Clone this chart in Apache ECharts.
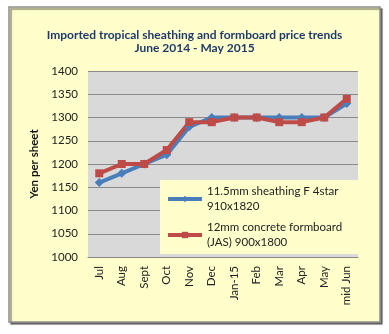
<!DOCTYPE html>
<html><head><meta charset="utf-8">
<script src="https://cdn.jsdelivr.net/npm/echarts@6/dist/echarts.min.js"></script>
<style>html,body{margin:0;padding:0;background:#fff}#c{width:389px;height:334px}</style>
</head><body><div id="c"></div>
<script>
var categories = ['Jul','Aug','Sept','Oct','Nov','Dec','Jan-15','Feb','Mar','Apr','May','mid Jun'];
var sheathing = [1160,1180,1200,1220,1280,1300,1300,1300,1300,1300,1300,1330];
var formboard = [1180,1200,1200,1230,1290,1290,1300,1300,1290,1290,1300,1340];
var seriesNames = ['11.5mm sheathing F 4star\n910x1820','12mm concrete formboard\n(JAS) 900x1800'];
var chart = echarts.init(document.getElementById('c'));
var font = 'Lato';
chart.setOption({
  backgroundColor:'#fff',
  animation:false,
  graphic:[{type:'rect',z:-10,shape:{x:9,y:7,width:371,height:315},
    style:{fill:'#FFFFCC',stroke:'#8c8c8c',lineWidth:1.5,shadowColor:'rgba(0,0,0,0.45)',shadowOffsetX:2,shadowOffsetY:2,shadowBlur:1}}],
  title:{text:'Imported tropical sheathing and formboard price trends\nJune 2014 - May 2015',left:'center',top:24,
    textStyle:{fontFamily:font,fontSize:12,fontWeight:'bold',color:'#1F3A6A',lineHeight:13}},
  grid:{left:88,right:31,top:71,bottom:77,show:true,backgroundColor:'#D9D9D9',borderWidth:0},
  legend:{orient:'vertical',left:160,top:180,backgroundColor:'#FFFFCC',padding:[4,20,4,6],itemGap:6,
    itemWidth:34,itemHeight:8,
    lineStyle:{width:4},
    textStyle:{fontFamily:font,fontSize:11.5,color:'#222',lineHeight:15},
    data:seriesNames},
  xAxis:{type:'category',data:categories,boundaryGap:true,
    axisLine:{show:true,lineStyle:{color:'#888'}},axisTick:{show:false},
    axisLabel:{rotate:90,interval:0,fontFamily:font,fontSize:11.5,color:'#222',margin:9}},
  yAxis:{type:'value',min:1000,max:1400,interval:50,name:'Yen per sheet',nameLocation:'middle',nameGap:35,
    nameTextStyle:{fontFamily:font,fontSize:11.5,fontWeight:'bold',color:'#111'},
    axisLine:{show:false},axisTick:{show:false},
    splitLine:{lineStyle:{color:'#8a8a8a',width:1}},
    axisLabel:{fontFamily:font,fontSize:11.5,color:'#222',margin:10,formatter:function(v){return String(v);}}},
  series:[
    {name:seriesNames[0],type:'line',data:sheathing,symbol:'diamond',symbolSize:9,
      lineStyle:{color:'#4A7EBB',width:4},itemStyle:{color:'#4A7EBB'}},
    {name:seriesNames[1],type:'line',data:formboard,symbol:'rect',symbolSize:8,
      lineStyle:{color:'#BE4B48',width:4},itemStyle:{color:'#BE4B48'}}
  ]
});
</script></body></html>
